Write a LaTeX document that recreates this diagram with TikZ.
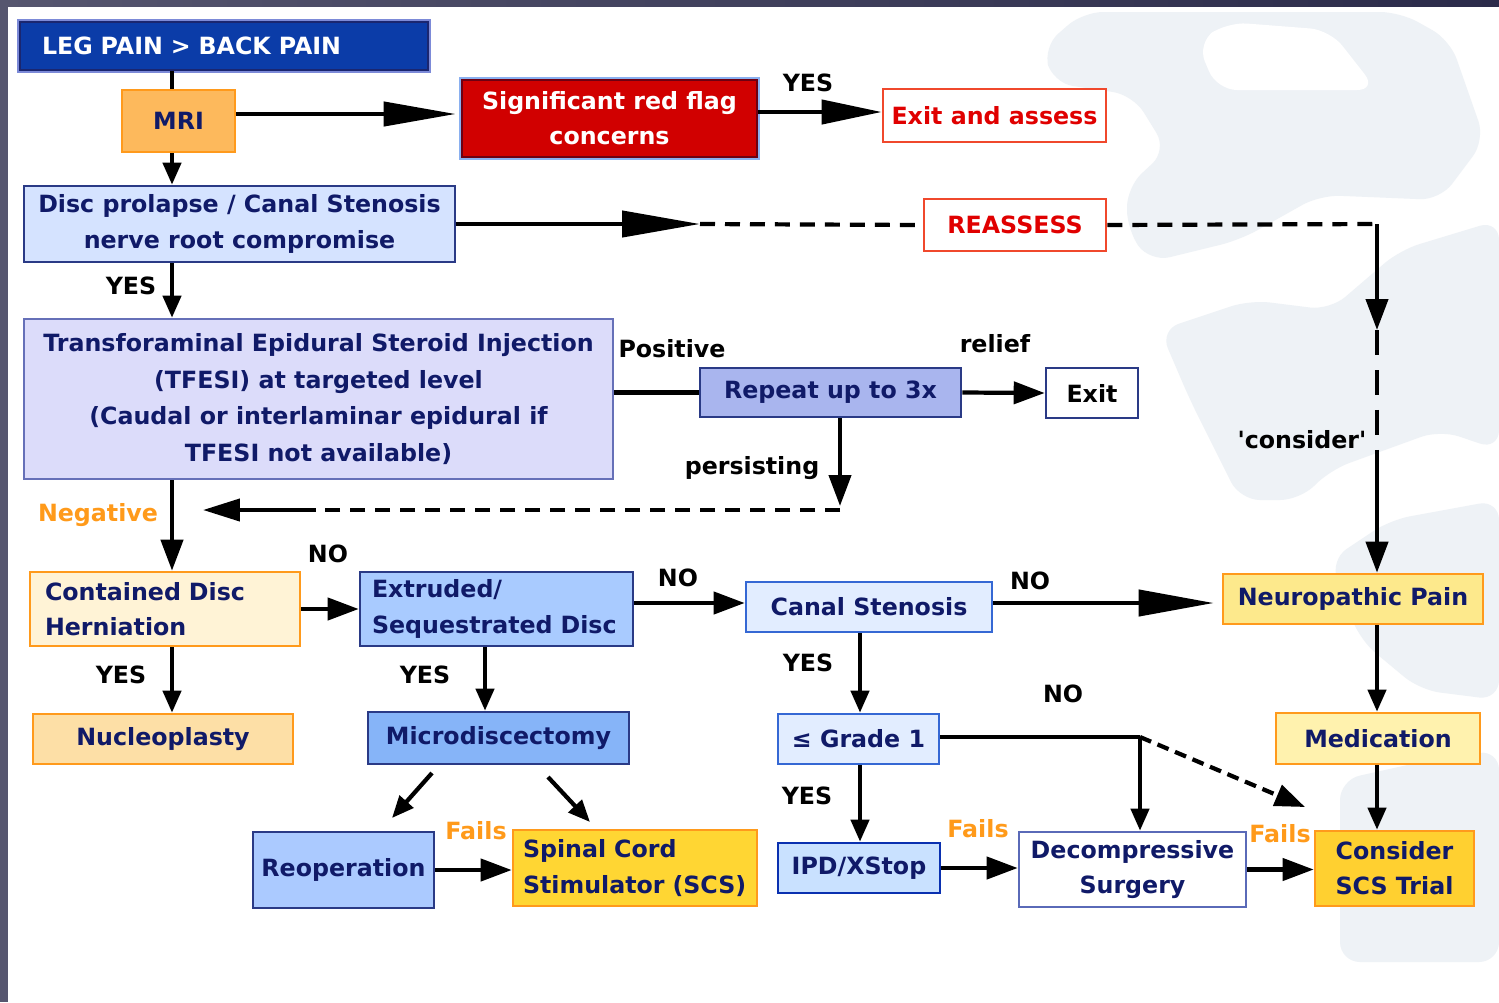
\documentclass[tikz,border=0pt]{standalone}
\usepackage{fontspec}
\setmainfont{DejaVu Sans}
\usetikzlibrary{arrows.meta,calc}
\definecolor{navy}{HTML}{101A68}
\definecolor{legfill}{HTML}{0B3CA8}
\definecolor{legdraw}{HTML}{1A2670}
\definecolor{legout}{HTML}{7C8AD8}
\definecolor{mrifill}{HTML}{FDB95C}
\definecolor{orgdraw}{HTML}{FF9A1C}
\definecolor{sigfill}{HTML}{D10000}
\definecolor{sigdraw}{HTML}{6E0012}
\definecolor{sigout}{HTML}{8AB0F0}
\definecolor{reddraw}{HTML}{F0482C}
\definecolor{redtext}{HTML}{E00000}
\definecolor{discfill}{HTML}{D5E3FF}
\definecolor{bluedraw}{HTML}{2A3A86}
\definecolor{tffill}{HTML}{DCDCFA}
\definecolor{tfdraw}{HTML}{6670B8}
\definecolor{repfill}{HTML}{A9B5EE}
\definecolor{contfill}{HTML}{FFF3D6}
\definecolor{extrfill}{HTML}{A9CBFF}
\definecolor{canalfill}{HTML}{E2EDFF}
\definecolor{canaldraw}{HTML}{3568D4}
\definecolor{neurofill}{HTML}{FDE98C}
\definecolor{nucfill}{HTML}{FDDFA6}
\definecolor{microfill}{HTML}{86B4F8}
\definecolor{medfill}{HTML}{FFF2AE}
\definecolor{reopfill}{HTML}{ABCAFF}
\definecolor{scsfill}{HTML}{FFD633}
\definecolor{ipdfill}{HTML}{C9E1FF}
\definecolor{ipddraw}{HTML}{0A30B0}
\definecolor{decdraw}{HTML}{5A6AB8}
\definecolor{consfill}{HTML}{FFD030}
\definecolor{orangelbl}{HTML}{FF9A1A}
\definecolor{wmark}{HTML}{EEF2F6}
\definecolor{frameA}{HTML}{56566F}
\definecolor{frameB}{HTML}{2B2B4A}
\begin{document}
\begin{tikzpicture}[x=0.02cm,y=-0.02cm,
  every node/.style={font=\fontsize{13.5}{20}\selectfont\bfseries},
  box/.style={draw, line width=1.5pt, inner sep=0pt, align=center, text=navy},
  lbl/.style={inner sep=0pt, text=black},
  olbl/.style={inner sep=0pt, text=orangelbl},
  ln/.style={line width=2.4pt},
  dln/.style={line width=2.4pt, dash pattern=on 0.3cm off 0.2cm},
  sarr/.style={-{Triangle[length=0.44cm,width=0.36cm]}},
  marr/.style={-{Triangle[length=0.62cm,width=0.44cm]}}
]
\useasboundingbox (0,0) rectangle (1499,1002);
\fill[white] (0,0) rectangle (1499,1002);
% watermark
\fill[wmark, rounded corners=0.4cm] (1043,47) -- (1083,12) -- (1400,12) -- (1450,40) -- (1485,140) -- (1440,200) -- (1320,195) -- (1240,240) -- (1150,262) -- (1127,230) -- (1127,187) -- (1167,150) -- (1133,95) -- (1053,83) -- cycle;
\fill[white, rounded corners=0.4cm] (1197,43) -- (1227,22) -- (1330,30) -- (1377,90) -- (1217,90) -- cycle;
\fill[wmark, rounded corners=0.4cm] (1160,330) -- (1250,300) -- (1330,310) -- (1400,250) -- (1499,220) -- (1499,450) -- (1440,430) -- (1330,470) -- (1300,500) -- (1240,500) -- (1190,400) -- cycle;
\fill[wmark, rounded corners=0.4cm] (1330,560) -- (1390,520) -- (1499,500) -- (1499,700) -- (1420,690) -- (1360,640) -- cycle;
\fill[wmark, rounded corners=0.4cm] (1340,780) -- (1430,760) -- (1499,750) -- (1499,962) -- (1340,962) -- cycle;
% frame
\fill[frameA] (0,0) rectangle (8,1002);
\shade[left color=frameA, right color=frameB] (0,0) rectangle (1499,6);

% boxes
\node[box, fill=legfill, draw=legdraw, text=white, align=left, text width=7.28cm, inner xsep=0.44cm, minimum height=0.96cm, preaction={draw=legout, line width=3pt}] (leg) at (224,46) {LEG PAIN > BACK PAIN};
\node[box, fill=mrifill, draw=orgdraw, minimum width=2.26cm, minimum height=1.24cm] (mri) at (178.5,121) {MRI};
\node[box, fill=sigfill, draw=sigdraw, text=white, minimum width=5.9cm, minimum height=1.54cm, preaction={draw=sigout, line width=3pt}] (sig) at (609.5,118.5) {Significant red flag\\concerns};
\node[box, fill=white, draw=reddraw, text=redtext, minimum width=4.46cm, minimum height=1.06cm] (exitA) at (994.5,115.5) {Exit and assess};
\node[box, fill=discfill, draw=bluedraw, minimum width=8.62cm, minimum height=1.52cm] (disc) at (239.5,224) {Disc prolapse / Canal Stenosis\\nerve root compromise};
\node[box, fill=white, draw=reddraw, text=redtext, minimum width=3.64cm, minimum height=1.04cm] (reass) at (1015,225) {REASSESS};
\node[box, fill=tffill, draw=tfdraw, minimum width=11.78cm, minimum height=3.2cm, font=\fontsize{13.5}{21}\selectfont\bfseries] (tfesi) at (318.5,399) {Transforaminal Epidural Steroid Injection\\(TFESI) at targeted level\\(Caudal or interlaminar epidural if\\TFESI not available)};
\node[box, fill=repfill, draw=bluedraw, minimum width=5.22cm, minimum height=0.98cm] (repeat) at (830.5,392.5) {Repeat up to 3x};
\node[box, fill=white, draw=bluedraw, text=black, minimum width=1.84cm, minimum height=1cm] (exit) at (1092,393) {Exit};
\node[box, fill=contfill, draw=orgdraw, align=left, text width=4.8cm, inner xsep=0.3cm, minimum height=1.48cm] (cont) at (165,609) {Contained Disc\\Herniation};
\node[box, fill=extrfill, draw=bluedraw, align=left, text width=4.98cm, inner xsep=0.24cm, minimum height=1.48cm] (extr) at (496.5,609) {Extruded/\\Sequestrated Disc};
\node[box, fill=canalfill, draw=canaldraw, minimum width=4.92cm, minimum height=1cm] (canal) at (869,607) {Canal Stenosis};
\node[box, fill=neurofill, draw=orgdraw, minimum width=5.2cm, minimum height=1cm] (neuro) at (1353,599) {Neuropathic Pain};
\node[box, fill=nucfill, draw=orgdraw, minimum width=5.2cm, minimum height=1cm] (nucleo) at (163,739) {Nucleoplasty};
\node[box, fill=microfill, draw=bluedraw, minimum width=5.22cm, minimum height=1.04cm] (micro) at (498.5,738) {Microdiscectomy};
\node[box, fill=canalfill, draw=canaldraw, minimum width=3.22cm, minimum height=1cm] (grade) at (858.5,739) {≤ Grade 1};
\node[box, fill=medfill, draw=orgdraw, minimum width=4.08cm, minimum height=1.02cm] (medic) at (1378,738.5) {Medication};
\node[box, fill=reopfill, draw=bluedraw, minimum width=3.62cm, minimum height=1.52cm] (reop) at (343.5,870) {Reoperation};
\node[box, fill=scsfill, draw=orgdraw, align=left, text width=4.48cm, inner xsep=0.2cm, minimum height=1.52cm] (scs) at (635,868) {Spinal Cord\\Stimulator (SCS)};
\node[box, fill=ipdfill, draw=ipddraw, minimum width=3.24cm, minimum height=1cm] (ipd) at (859,868) {IPD/XStop};
\node[box, fill=white, draw=decdraw, minimum width=4.54cm, minimum height=1.5cm] (decomp) at (1132.5,869.5) {Decompressive\\Surgery};
\node[box, fill=consfill, draw=orgdraw, minimum width=3.18cm, minimum height=1.5cm] (consid) at (1394.5,868.5) {Consider\\SCS Trial};

% labels
\node[lbl] (l1) at (808,83) {YES};
\node[lbl] (l2) at (131,286) {YES};
\node[lbl] (l3) at (672,349) {Positive};
\node[lbl] (l4) at (995,344) {relief};
\node[lbl] (l5) at (752,468) {persisting};
\node[lbl] (l6) at (1302,440) {\textquotesingle consider\textquotesingle};
\node[olbl] (l7) at (98,515) {Negative};
\node[lbl] (l8) at (328,554) {NO};
\node[lbl] (l9) at (678,578) {NO};
\node[lbl] (l10) at (1030,581) {NO};
\node[lbl] (l11) at (121,675) {YES};
\node[lbl] (l12) at (425,675) {YES};
\node[lbl] (l13) at (808,663) {YES};
\node[lbl] (l14) at (1063,694) {NO};
\node[lbl] (l15) at (807,796) {YES};
\node[olbl] (l16) at (476,831) {Fails};
\node[olbl] (l17) at (978,829) {Fails};
\node[olbl] (l18) at (1280,834) {Fails};

% coordinates
\coordinate (c1) at (172,0);
\coordinate (c2) at (485,0);
\coordinate (c3) at (860,0);
\coordinate (c4) at (1377,0);
\coordinate (r1) at (0,114);
\coordinate (r2) at (0,112);
\coordinate (r3) at (0,603);
\coordinate (h1) at (700,224);
\coordinate (k1) at (1377,224);
\coordinate (k2) at (1377,330);
\coordinate (k3) at (1377,460);
\coordinate (p1) at (840,506);
\coordinate (p2) at (840,510);
\coordinate (p3) at (315,510);
\coordinate (p4) at (203,510);
\coordinate (d1) at (432,773);
\coordinate (d2) at (392,818);
\coordinate (d3) at (548,777);
\coordinate (d4) at (590,822);
\coordinate (k5) at (1140,737);
\coordinate (k6) at (1305,807);

% connectors
\draw[ln] (leg.south -| c1) -- (mri.north -| c1);
\draw[ln, -{Triangle[length=1.44cm,width=0.48cm]}] (mri.east |- r1) -- ([xshift=-0.1cm]sig.west |- r1);
\draw[ln, -{Triangle[length=1.2cm,width=0.48cm]}] (sig.east |- r2) -- (exitA.west |- r2);
\draw[ln, sarr] (mri.south -| c1) -- (disc.north -| c1);
\draw[ln, sarr] (disc.south -| c1) -- (tfesi.north -| c1);
\draw[ln, -{Triangle[length=1.56cm,width=0.52cm]}] (disc.east) -- (h1);
\draw[dln] (h1) -- (reass.west);
\draw[dln] (reass.east) -- (k1);
\draw[ln, marr] (k1) -- (k2);
\draw[ln, dash pattern=on 0.5cm off 0.3cm] (k2) -- (k3);
\draw[ln, marr] (k3) -- (neuro.north -| k1);
\draw[ln] (tfesi.east |- repeat.west) -- (repeat.west);
\draw[ln, marr] (repeat.east) -- (exit.west);
\draw[ln, marr] (repeat.south -| p1) -- (p1);
\draw[dln] (p2) -- (p3);
\draw[ln, -{Triangle[length=0.74cm,width=0.44cm]}] (p3) -- (p4);
\draw[ln, marr] (tfesi.south -| c1) -- (cont.north -| c1);
\draw[ln, marr] (cont.east) -- (extr.west);
\draw[ln, marr] (extr.east |- r3) -- (canal.west |- r3);
\draw[ln, -{Triangle[length=1.5cm,width=0.52cm]}] (canal.east |- r3) -- ([xshift=-0.16cm]neuro.west |- r3);
\draw[ln, sarr] (cont.south -| c1) -- (nucleo.north -| c1);
\draw[ln, sarr] (extr.south -| c2) -- (micro.north -| c2);
\draw[ln, sarr] (d1) -- (d2);
\draw[ln, sarr] (d3) -- (d4);
\draw[ln, marr] (reop.east) -- (scs.west |- reop.east);
\draw[ln, sarr] (canal.south -| c3) -- (grade.north -| c3);
\draw[ln, sarr] (grade.south -| c3) -- (ipd.north -| c3);
\draw[ln, marr] (ipd.east) -- (decomp.west |- ipd.east);
\draw[ln] (grade.east |- k5) -- (k5);
\draw[ln, sarr] (k5) -- (decomp.north -| k5);
\draw[line width=2.4pt, dash pattern=on 0.24cm off 0.14cm, -{Triangle[length=0.6cm,width=0.44cm]}] (k5) -- (k6);
\draw[ln, marr] (decomp.east) -- (consid.west |- decomp.east);
\draw[ln, sarr] (neuro.south -| c4) -- (medic.north -| c4);
\draw[ln, sarr] (medic.south -| c4) -- (consid.north -| c4);
\end{tikzpicture}
\end{document}
